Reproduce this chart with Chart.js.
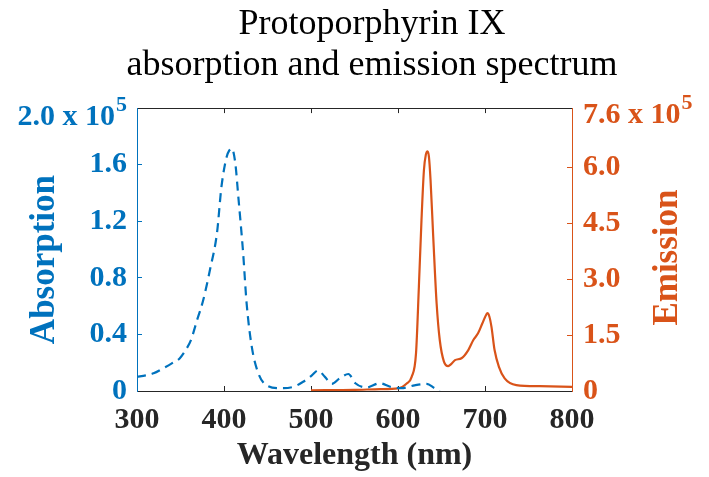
<!DOCTYPE html>
<html>
<head>
<meta charset="utf-8">
<script src="https://cdn.jsdelivr.net/npm/chart.js@4/dist/chart.umd.min.js"></script>
<style>
    html, body { margin: 0; padding: 0; background: #fff; }
    #wrap { width: 709px; height: 477px; position: relative; }
</style>
</head>
<body>
<div id="wrap"><canvas id="chart"></canvas></div>
<script>
// absorption spectrum (values in units of 10^5)
const absWavelength = [300, 310, 319, 330, 340, 349, 356, 362, 369, 376, 384, 392, 397, 403, 406, 409, 413, 416.5, 422, 426, 432, 439.5, 449, 464, 480, 491, 501, 508, 516, 524, 533, 543, 551, 564, 579, 591, 604, 619, 633, 642, 648];
const absValue = [0.10, 0.11, 0.125, 0.16, 0.195, 0.23, 0.29, 0.36, 0.50, 0.64, 0.86, 1.12, 1.44, 1.655, 1.70, 1.715, 1.61, 1.37, 0.975, 0.62, 0.31, 0.125, 0.04, 0.02, 0.03, 0.065, 0.11, 0.145, 0.10, 0.05, 0.09, 0.12, 0.055, 0.025, 0.055, 0.03, 0.02, 0.04, 0.05, 0.02, 0.0];

// emission spectrum (values in units of 10^5)
const emWavelength = [500, 550, 580, 600, 610, 615.7, 620.7, 624, 627, 629.8, 632, 634, 635.5, 637.4, 640.5, 644.4, 648, 652.8, 657.7, 661, 665.5, 673, 680.8, 686.6, 692, 697, 700, 702.8, 705, 707.4, 711, 716, 722.6, 736, 763, 800];
const emValue = [0.02, 0.03, 0.05, 0.07, 0.2, 0.38, 1.01, 2.8, 4.59, 5.93, 6.35, 6.44, 6.30, 5.67, 4.14, 2.35, 1.37, 0.79, 0.67, 0.72, 0.83, 0.88, 1.1, 1.37, 1.55, 1.82, 1.98, 2.09, 2.0, 1.73, 1.1, 0.65, 0.34, 0.16, 0.13, 0.11];

// axis ticks
const xTicks = [300, 400, 500, 600, 700, 800];
const absTicks = [0, 0.4, 0.8, 1.2, 1.6, 2.0];
const emTicks = [0, 1.5, 3.0, 4.5, 6.0, 7.6];

const BLUE = '#0072BD';
const ORANGE = '#D95319';
const DARK = '#262626';
const SERIF = "'Liberation Serif', 'Times New Roman', serif";

const tickFont = { family: SERIF, size: 30, weight: 'bold' };

const setTicks = (list) => (scale) => {
    scale.ticks = list.map(v => ({ value: v }));
};

// labels "2.0 x 10^5" and "7.6 x 10^5", rotated axis titles
const axisTextPlugin = {
    id: 'axisText',
    afterDraw(chart) {
        const { ctx } = chart;
        const y = chart.scales.y;
        const y1 = chart.scales.y1;
        ctx.save();

        const big = `bold 30px ${SERIF}`;
        const small = `bold 22px ${SERIF}`;

        // left top label
        let py = y.getPixelForValue(2.0) + 17;
        ctx.fillStyle = BLUE;
        ctx.textBaseline = 'alphabetic';
        ctx.font = small;
        const w5 = ctx.measureText('5').width;
        ctx.textAlign = 'right';
        let rx = y.right - 10;
        ctx.fillText('5', rx, py - 14);
        ctx.font = big;
        ctx.fillText('2.0 x 10', rx - w5 - 1, py);

        // right top label
        py = y1.getPixelForValue(7.6) + 15;
        ctx.fillStyle = ORANGE;
        ctx.textAlign = 'left';
        ctx.font = big;
        const lx = y1.left + 11;
        const wMain = ctx.measureText('7.6 x 10').width;
        ctx.fillText('7.6 x 10', lx, py);
        ctx.font = small;
        ctx.fillText('5', lx + wMain + 1, py - 14);

        // axis titles, both read bottom to top
        ctx.font = `bold 35px ${SERIF}`;
        ctx.textAlign = 'center';
        const midY = (y.top + y.bottom) / 2;

        ctx.save();
        ctx.translate(y.left + 19, midY + 10);
        ctx.rotate(-Math.PI / 2);
        ctx.fillStyle = BLUE;
        ctx.fillText('Absorption', 0, 0);
        ctx.restore();

        ctx.save();
        ctx.translate(y1.left + 105, midY + 8);
        ctx.rotate(-Math.PI / 2);
        ctx.fillStyle = ORANGE;
        ctx.fillText('Emission', 0, 0);
        ctx.restore();

        ctx.restore();
    }
};

const ctx = document.getElementById('chart').getContext('2d');

new Chart(ctx, {
    type: 'line',
    data: {
        datasets: [{
            label: 'Absorption',
            data: absWavelength.map((x, i) => ({ x, y: absValue[i] })),
            yAxisID: 'y',
            borderColor: BLUE,
            borderWidth: 2.2,
            borderDash: [9, 6],
            pointRadius: 0,
            cubicInterpolationMode: 'monotone',
            fill: false
        }, {
            label: 'Emission',
            data: emWavelength.map((x, i) => ({ x, y: emValue[i] })),
            yAxisID: 'y1',
            borderColor: ORANGE,
            borderWidth: 2.2,
            pointRadius: 0,
            cubicInterpolationMode: 'monotone',
            fill: false
        }]
    },
    options: {
        responsive: true,
        maintainAspectRatio: false,
        animation: false,
        layout: {
            padding: { left: 35, right: 0, top: 0, bottom: 0 }
        },
        scales: {
            x: {
                type: 'linear',
                position: 'bottom',
                min: 300,
                max: 800,
                afterBuildTicks: setTicks(xTicks),
                afterFit: (scale) => { scale.height = 86; },
                grid: {
                    drawOnChartArea: false,
                    drawTicks: true,
                    tickLength: -5,
                    color: DARK,
                    lineWidth: 1
                },
                border: { color: DARK, width: 1 },
                ticks: {
                    color: DARK,
                    font: tickFont,
                    padding: 16,
                    maxRotation: 0,
                    callback: (v) => String(v)
                },
                title: {
                    display: true,
                    text: 'Wavelength (nm)',
                    color: DARK,
                    font: { family: SERIF, size: 32, weight: 'bold', lineHeight: 1.2 },
                    padding: { top: 0, bottom: 2 }
                }
            },
            x2: {
                type: 'linear',
                position: 'top',
                min: 300,
                max: 800,
                afterBuildTicks: setTicks(xTicks),
                afterFit: (scale) => { scale.height = 0; },
                grid: {
                    drawOnChartArea: false,
                    drawTicks: true,
                    tickLength: -5,
                    color: DARK,
                    lineWidth: 1
                },
                border: { color: DARK, width: 1 },
                ticks: { display: false }
            },
            y: {
                type: 'linear',
                position: 'left',
                min: 0,
                max: 2.0,
                afterBuildTicks: setTicks(absTicks),
                afterFit: (scale) => { scale.width = 102; },
                grid: {
                    drawOnChartArea: false,
                    drawTicks: true,
                    tickLength: -5,
                    color: BLUE,
                    lineWidth: 1
                },
                border: { color: BLUE, width: 1 },
                ticks: {
                    color: BLUE,
                    font: tickFont,
                    padding: 15,
                    callback: (v) => v === 0 ? '0' : (v >= 2.0 ? '' : v.toFixed(1))
                }
            },
            y1: {
                type: 'linear',
                position: 'right',
                min: 0,
                max: 7.6,
                afterBuildTicks: setTicks(emTicks),
                afterFit: (scale) => { scale.width = 137; },
                grid: {
                    drawOnChartArea: false,
                    drawTicks: true,
                    tickLength: -5,
                    color: ORANGE,
                    lineWidth: 1
                },
                border: { color: ORANGE, width: 1 },
                ticks: {
                    color: ORANGE,
                    font: tickFont,
                    padding: 16,
                    callback: (v) => v === 0 ? '0' : (v >= 7.6 ? '' : v.toFixed(1))
                }
            }
        },
        plugins: {
            legend: { display: false },
            tooltip: { enabled: false },
            title: {
                display: true,
                text: ['Protoporphyrin IX', 'absorption and emission spectrum'],
                color: '#000',
                font: { family: SERIF, size: 36, weight: 'normal', lineHeight: 1.14 },
                padding: { top: 4, bottom: 22 }
            }
        }
    },
    plugins: [axisTextPlugin]
});
</script>
</body>
</html>
